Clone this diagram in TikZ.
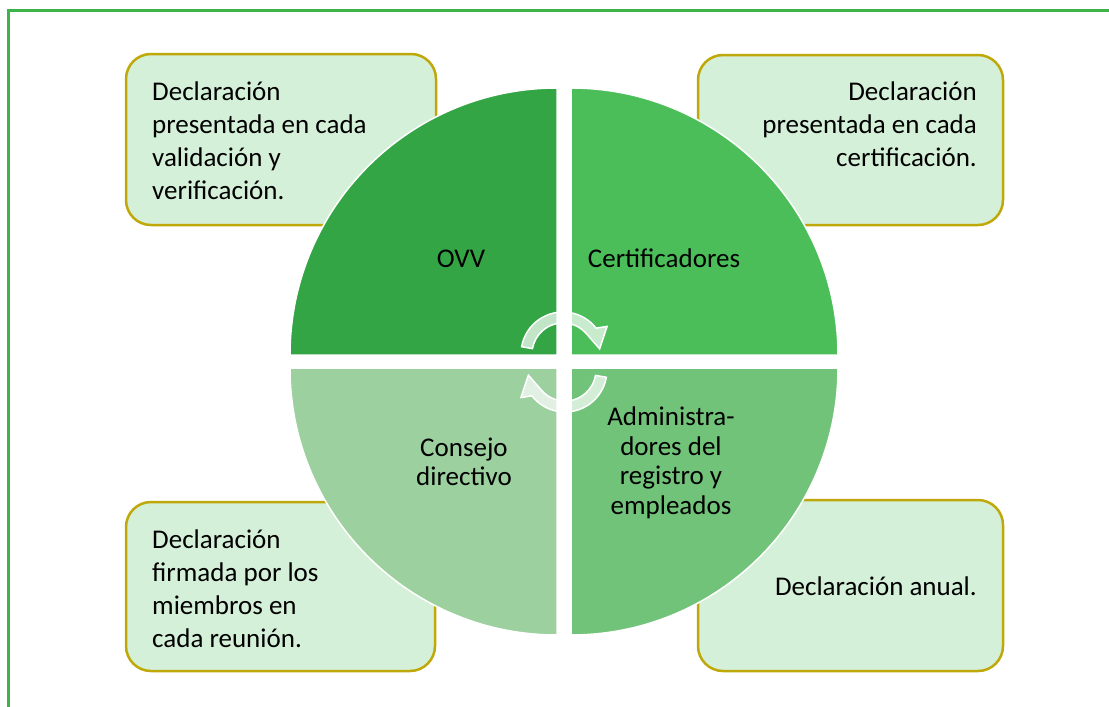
\documentclass[tikz,border=0pt]{standalone}
\usepackage{fontspec}
\setmainfont{Carlito}
\definecolor{frameg}{RGB}{62,180,72}
\definecolor{boxfill}{RGB}{213,240,216}
\definecolor{boxline}{RGB}{191,168,10}
\definecolor{qTL}{RGB}{51,165,68}
\definecolor{qTR}{RGB}{75,190,90}
\definecolor{qBL}{RGB}{156,208,158}
\definecolor{qBR}{RGB}{114,195,122}
\begin{document}
\begin{tikzpicture}[x=1pt,y=-1pt,
  infobox/.style={draw=boxline, fill=boxfill, line width=2.5pt, rounded corners=25pt, inner sep=0pt},
  quad/.style={draw=white, line width=1.5pt},
  cycarrow/.style={fill=white, fill opacity=0.7, draw=white, line width=1.5pt},
  boxtxt/.style={inner sep=0pt, align=left, font=\fontsize{27}{33}\selectfont},
  qtxt/.style={inner sep=0pt, align=center, font=\fontsize{27}{29.5}\selectfont}]
\useasboundingbox (0,0) rectangle (1109,707);
\fill[white] (0,0) rectangle (1109,707);
% frame
\draw[frameg, line width=3pt] (8,707) -- (8,10) -- (1109,10);
% boxes
\node[infobox, minimum width=310pt, minimum height=171pt] (b1) at (281,139.5) {};
\node[infobox, minimum width=305pt, minimum height=170pt] (b2) at (850.5,140) {};
\node[infobox, minimum width=309pt, minimum height=169pt] (b3) at (280.5,586.5) {};
\node[infobox, minimum width=305pt, minimum height=171pt] (b4) at (850.5,585.5) {};
% quadrants
\filldraw[quad, fill=qTL] (557,355) -- ++(180:267) arc[start angle=180, end angle=270, radius=267] -- cycle;
\filldraw[quad, fill=qTR] (571,355) -- ++(270:267) arc[start angle=270, end angle=360, radius=267] -- cycle;
\filldraw[quad, fill=qBL] (557,368) -- ++(90:267) arc[start angle=90, end angle=180, radius=267] -- cycle;
\filldraw[quad, fill=qBR] (571,368) -- ++(0:267) arc[start angle=0, end angle=90, radius=267] -- cycle;
% circular arrows
\begin{scope}[shift={(563,354)}]
\filldraw[cycarrow] (190:42) arc[start angle=190, end angle=322, radius=42] -- (328:52) -- (352:37) -- (318:31) arc[start angle=318, end angle=190, radius=31] -- cycle;
\end{scope}
\begin{scope}[shift={(565,370)}, rotate=180]
\filldraw[cycarrow] (190:42) arc[start angle=190, end angle=322, radius=42] -- (328:52) -- (352:37) -- (318:31) arc[start angle=318, end angle=190, radius=31] -- cycle;
\end{scope}
% texts (base anchor = baseline of the last line)
\node[boxtxt, anchor=base west] (t1) at (152,199) {Declaración\\presentada en cada\\validación y\\verificación.};
\node[boxtxt, align=right, anchor=base east] (t2) at (977,166) {Declaración\\presentada en cada\\certificación.};
\node[boxtxt, anchor=base west] (t3) at (152,647) {Declaración\\firmada por los\\miembros en\\cada reunión.};
\node[boxtxt, anchor=base east] (t4) at (977,595) {Declaración anual.};
\node[qtxt, anchor=base] (q1) at (461,267) {OVV};
\node[qtxt, anchor=base] (q2) at (664,267) {Certificadores};
\node[qtxt, anchor=base] (q3) at (464,485.5) {Consejo\\directivo};
\node[qtxt, anchor=base] (q4) at (671,514) {Administra-\\dores del\\registro y\\empleados};
\end{tikzpicture}
\end{document}
